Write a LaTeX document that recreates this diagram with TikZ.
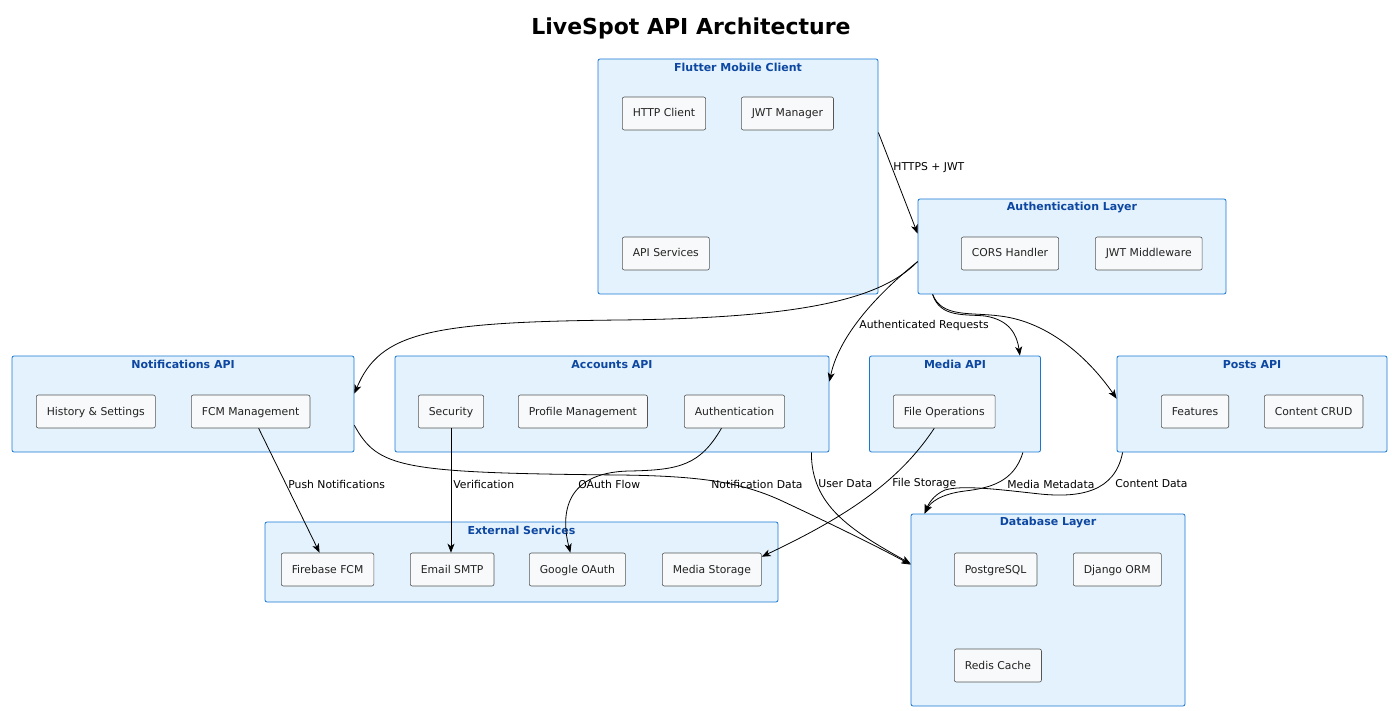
\documentclass[tikz,border=0pt]{standalone}
\usepackage{fontspec}
\setmainfont{DejaVu Sans}
\usepackage{tikz}
\usetikzlibrary{arrows.meta,calc}
\definecolor{grpfill}{HTML}{E3F2FD}
\definecolor{grpline}{HTML}{1976D2}
\definecolor{grptext}{HTML}{0D47A1}
\definecolor{boxfill}{HTML}{F8F9FA}
\definecolor{boxline}{HTML}{555555}
\definecolor{boxtext}{HTML}{222222}

\begin{document}
\begin{tikzpicture}
[x=1pt, y=-1pt, >={Stealth[length=9pt,width=7pt,inset=2.5pt]}]
\tikzset{
	grp/.style = {draw=grpline, fill=grpfill, rounded corners=2pt, line width=0.8pt, inner sep=0pt},
	grptitle/.style = {font=\bfseries\fontsize{11}{13}\selectfont, text=grptext, inner sep=0pt},
	box/.style = {draw=boxline, fill=boxfill, rounded corners=2pt, line width=0.6pt, anchor=west,
		minimum height=33, inner xsep=10.5pt, text height=8pt, text depth=1pt, text=boxtext,
		font=\fontsize{10.8}{12}\selectfont},
	lbl/.style = {font=\fontsize{10.8}{12}\selectfont, anchor=west, inner sep=0pt},
	link/.style = {->, line width=0.8pt}
}

\useasboundingbox (0,0) rectangle (1392,711);

\node(title) at (691,28) {\bfseries\fontsize{22}{26}\selectfont LiveSpot API Architecture};

% containers
\node(flutter) [grp, minimum width=280, minimum height=235] at (738,176.5) {};
\node(auth)    [grp, minimum width=308, minimum height=95]  at (1072,246.5) {};
\node(notif)   [grp, minimum width=342, minimum height=96]  at (183,404) {};
\node(acct)    [grp, minimum width=434, minimum height=96]  at (612,404) {};
\node(media)   [grp, minimum width=171, minimum height=96]  at (955,404) {};
\node(posts)   [grp, minimum width=270, minimum height=96]  at (1252,404) {};
\node(ext)     [grp, minimum width=513, minimum height=80]  at (521.5,562) {};
\node(db)      [grp, minimum width=274, minimum height=192] at (1048,610) {};

\foreach \g/\t in {flutter/Flutter Mobile Client, auth/Authentication Layer,
	notif/Notifications API, acct/Accounts API, media/Media API, posts/Posts API,
	ext/External Services, db/Database Layer}
	\node(\g-t) [grptitle] at ($(\g.north)+(0,9)$) {\t};

% components
\node(httpc)   [box] at (622,113.5) {HTTP Client};
\node(jwtm)    [box] at (741,113.5) {JWT Manager};
\node(apis)    [box] at (622,253.5) {API Services};
\node(cors)    [box] at (961,253.5) {CORS Handler};
\node(jwtmw)   [box] at (1095,253.5) {JWT Middleware};
\node(hist)    [box] at (36,411.5) {History \& Settings};
\node(fcm)     [box] at (191,411.5) {FCM Management};
\node(sec)     [box] at (418,411.5) {Security};
\node(prof)    [box] at (518,411.5) {Profile Management};
\node(authn)   [box] at (684,411.5) {Authentication};
\node(fileops) [box] at (893,411.5) {File Operations};
\node(feat)    [box] at (1161,411.5) {Features};
\node(crud)    [box] at (1264,411.5) {Content CRUD};
\node(fbfcm)   [box] at (281,569.5) {Firebase FCM};
\node(smtp)    [box] at (410,569.5) {Email SMTP};
\node(goauth)  [box] at (529,569.5) {Google OAuth};
\node(mstore)  [box] at (662,569.5) {Media Storage};
\node(pg)      [box] at (954,569.5) {PostgreSQL};
\node(orm)     [box] at (1073,569.5) {Django ORM};
\node(redis)   [box] at (954,665.5) {Redis Cache};

% connectors
\draw [link] ($(flutter.north east)+(0,74)$) -- ($(auth.north west)+(0,35)$)
	node [lbl, at={(893,168)}] {HTTPS + JWT};
\draw [link] ($(auth.north west)+(0,63)$) .. controls (880,300) and (800,318) .. (620,320)
	.. controls (430,322) and (380,332) .. ($(notif.north east)+(0,38)$);
\draw [link] ($(auth.north west)+(0,63)$) .. controls (870,300) and (838,340) .. ($(acct.north east)+(0,26)$)
	node [lbl, at={(859,326)}] {Authenticated Requests};
\draw [link] ($(auth.south west)+(15,0)$) .. controls (940,318) and (965,314) .. (985,316)
	.. controls (1010,320) and (1017,335) .. ($(media.north east)+(-21,0)$);
\draw [link] ($(auth.south west)+(15,0)$) .. controls (942,318) and (970,312) .. (1000,316)
	.. controls (1050,322) and (1090,360) .. ($(posts.north west)+(0,43)$);
\draw [link] ($(notif.south east)+(0,-27)$) .. controls (378,468) and (400,473) .. (620,475)
	.. controls (700,476) and (740,482) .. (780,500) .. controls (840,528) and (880,548) .. ($(db.north west)+(0,51)$)
	node [lbl, at={(711,484)}] {Notification Data};
\draw [link] ($(acct.south east)+(-18,0)$) .. controls (811,505) and (850,530) .. ($(db.north west)+(0,50)$)
	node [lbl, at={(818,484)}] {User Data};
\draw [link] ($(fcm.south)+(8,0)$) -- ($(fbfcm.north)+(-8,0)$)
	node [lbl, at={(288,484)}] {Push Notifications};
\draw [link] (sec.south) -- (sec.south |- smtp.north)
	node [lbl, at={(453,484)}] {Verification};
\draw [link] ($(authn.south)+(-13,0)$) .. controls (700,465) and (680,470) .. (630,471)
	.. controls (560,472) and (562,520) .. ($(goauth.north)+(-7,0)$)
	node [lbl, at={(578,484)}] {OAuth Flow};
\draw [link] ($(fileops.south)+(-10,0)$) .. controls (900,480) and (850,515) .. ($(mstore.north east)+(0,4)$)
	node [lbl, at={(892,484)}] {File Storage};
\draw [link] ($(media.south east)+(-18,0)$) .. controls (1014,482) and (990,488) .. (965,491)
	.. controls (940,494) and (930,503) .. ($(db.north west)+(14,0)$)
	node [lbl, at={(1007,484)}] {Media Metadata};
\draw [link] ($(posts.south west)+(6,0)$) .. controls (1115,492) and (1080,498) .. (1040,494)
	.. controls (995,489) and (962,485) .. (945,490) .. controls (933,495) and (928,505) .. ($(db.north west)+(14,0)$)
	node [lbl, at={(1115,484)}] {Content Data};

\end{tikzpicture}
\end{document}
